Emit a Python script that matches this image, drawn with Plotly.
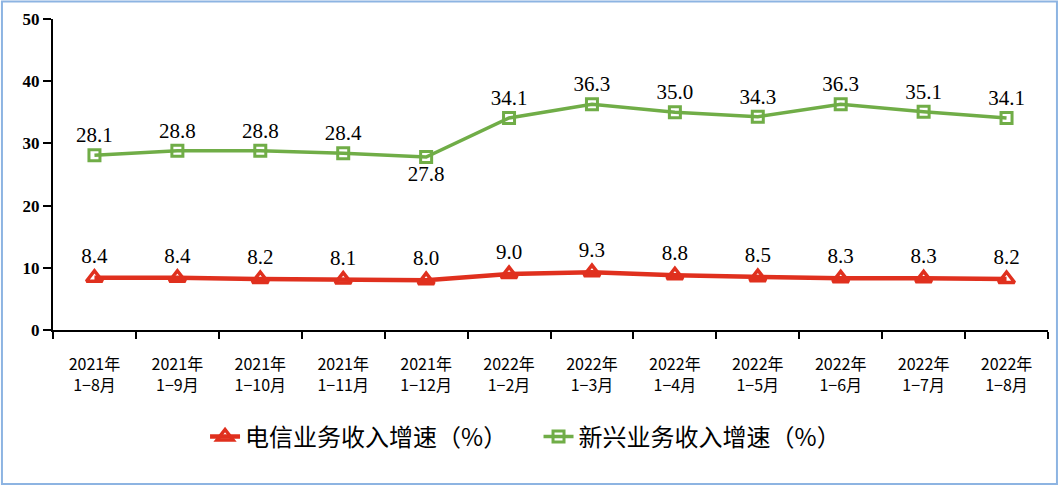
import plotly.graph_objects as go

categories = ["2021年<br>1−8月", "2021年<br>1−9月", "2021年<br>1−10月", "2021年<br>1−11月", "2021年<br>1−12月",
              "2022年<br>1−2月", "2022年<br>1−3月", "2022年<br>1−4月", "2022年<br>1−5月", "2022年<br>1−6月",
              "2022年<br>1−7月", "2022年<br>1−8月"]
telecom = [8.4, 8.4, 8.2, 8.1, 8.0, 9.0, 9.3, 8.8, 8.5, 8.3, 8.3, 8.2]
emerging = [28.1, 28.8, 28.8, 28.4, 27.8, 34.1, 36.3, 35.0, 34.3, 36.3, 35.1, 34.1]
emerging_label_pos = ["top center"] * 4 + ["bottom center"] + ["top center"] * 7
names = ["电信业务收入增速（%）", "新兴业务收入增速（%）"]
y_ticks = [0, 10, 20, 30, 40, 50]

red = "#E0301E"
green = "#70AD47"
label_font = dict(family="Liberation Serif, Times New Roman, serif", size=21, color="black")
legend_font = dict(family="Noto Sans CJK SC", size=24, color="black")

fig = go.Figure()
fig.add_trace(go.Scatter(
    x=categories, y=telecom, name=names[0], mode="lines+markers+text",
    line=dict(color=red, width=4.5),
    marker=dict(symbol="triangle-up-open", size=14, color=red, line=dict(width=3.5, color=red)),
    text=[f"{v:.1f}" for v in telecom], textposition="top center", textfont=label_font,
    cliponaxis=False, legend="legend",
))
fig.add_trace(go.Scatter(
    x=categories, y=emerging, name=names[1], mode="lines+markers+text",
    line=dict(color=green, width=3.5),
    marker=dict(symbol="square-open", size=11, color=green, line=dict(width=3, color=green)),
    text=[f"{v:.1f}" for v in emerging], textposition=emerging_label_pos, textfont=label_font,
    cliponaxis=False, legend="legend2",
))

fig.update_layout(
    width=1058, height=486,
    margin=dict(l=53, r=10, t=19, b=156, autoexpand=False),
    paper_bgcolor="white", plot_bgcolor="white",
    showlegend=True,
    legend=dict(x=0.1938, xref="container", xanchor="left", y=0.101, yref="container", yanchor="middle",
                font=legend_font, bgcolor="rgba(0,0,0,0)"),
    legend2=dict(x=0.509, xref="container", xanchor="left", y=0.101, yref="container", yanchor="middle",
                 font=legend_font, bgcolor="rgba(0,0,0,0)"),
    xaxis=dict(
        showgrid=False, showline=True, linecolor="black", linewidth=2,
        ticks="outside", tickson="boundaries", ticklen=7, tickcolor="black", tickwidth=1.5,
        tickfont=dict(family="Noto Sans CJK SC", size=16, color="black"),
        ticklabelstandoff=19,
        range=[-0.5, 11.5],
    ),
    yaxis=dict(
        range=[0, 50], tickvals=y_ticks, showgrid=False, zeroline=False,
        showline=True, linecolor="black", linewidth=2,
        ticks="outside", ticklen=8, tickcolor="black", tickwidth=1.5,
        tickfont=dict(family="Liberation Serif, Times New Roman, serif", size=17, color="black", weight="bold"),
    ),
    shapes=[dict(type="rect", xref="paper", yref="paper",
                 x0=-0.0513, x1=1.0090, y0=-0.4952, y1=1.0563,
                 line=dict(color="#8DB4E2", width=2), layer="above")],
)

fig.write_html("out.html", config={"displayModeBar": False},
               post_script="document.body.style.margin='0';document.body.style.overflow='hidden';")
